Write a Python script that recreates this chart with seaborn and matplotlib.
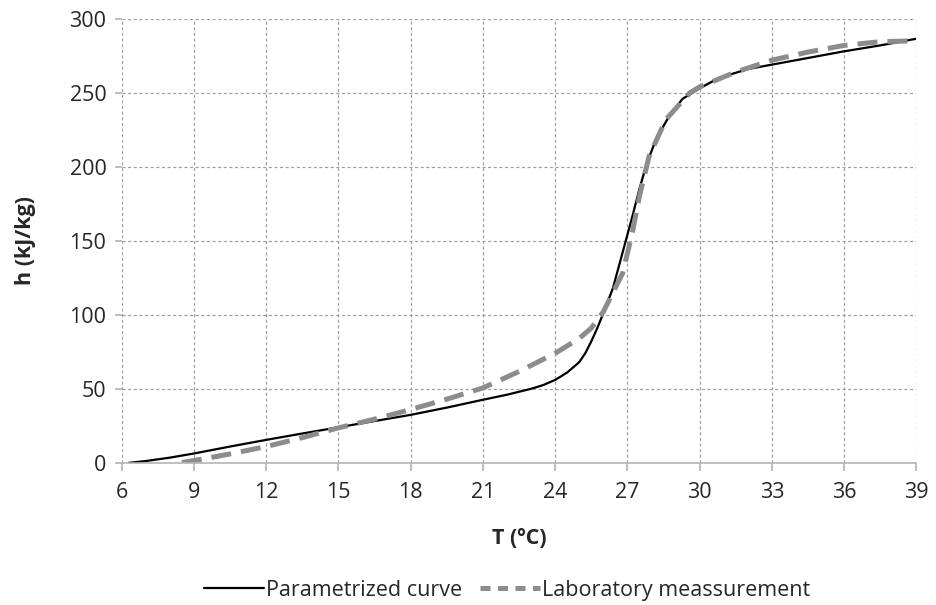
import numpy as np
import pandas as pd
import seaborn as sns
import matplotlib.pyplot as plt

# parametrized curve
t_param = [6.3, 7, 8, 9, 10.5, 12, 13.5, 15, 16.5, 18, 19.5, 21, 22, 23, 23.5, 24, 24.5, 25, 25.25,
           25.5, 25.75, 26, 26.4, 26.9, 27.2, 27.5, 27.8, 28.2, 28.8, 29.3, 30, 30.8, 32, 33, 34.5,
           36, 37.5, 39]
h_param = [0, 1.2, 3.5, 6.3, 11, 15.5, 19.8, 24, 28.2, 32.4, 37.3, 42.6, 46, 50, 52.5, 56, 61, 68, 74,
           82, 91, 101, 118, 148, 166, 185, 202, 219, 236, 246, 253, 260, 266, 269, 273.5,
           278, 282, 286.5]

# laboratory measurement
t_lab = [8.5, 9, 10.5, 12, 13.5, 15, 16.5, 18, 19.5, 21, 22.5, 24, 25, 25.5, 26, 26.4, 26.8,
         27.2, 27.5, 27.9, 28.6, 29.6, 30, 31.5, 33, 34.5, 36, 37.5, 38.7]
h_lab = [0.2, 1.5, 6, 11, 17, 23.6, 29.5, 36, 43, 50.6, 61.7, 74, 84, 91, 102, 115, 128,
         155, 180, 207, 232, 250, 254, 264, 272, 277.5, 282, 284.5, 285]

sns.set_theme(style="white")
plt.rcParams['font.family'] = ['Open Sans', 'DejaVu Sans']

fig = plt.figure(figsize=(9.36, 6.05), dpi=100)
ax = fig.add_axes([0.130, 0.235, 0.849, 0.734])

sns.lineplot(x=t_param, y=h_param, ax=ax, color="black", lw=1.6,
             label="Parametrized curve", sort=False)
sns.lineplot(x=t_lab, y=h_lab, ax=ax, color="#8c8c8c", lw=3.6,
             label="Laboratory meassurement", sort=False)
ax.lines[1].set_dashes((4, 2))

ax.set_xlim(6, 39)
ax.set_ylim(0, 300)
ax.set_xticks(np.arange(6, 40, 3))
ax.set_yticks(np.arange(0, 301, 50))
ax.grid(True, color="#a0a0a0", linestyle=(0, (2.5, 2)), lw=0.9)

for s in ["top", "right", "left"]:
    ax.spines[s].set_visible(False)
ax.spines["bottom"].set_color("#b5b5b5")
ax.spines["bottom"].set_linewidth(1.2)
ax.tick_params(axis="x", bottom=True, length=6, color="#b5b5b5", labelsize=15.5, pad=8)
ax.tick_params(axis="y", left=True, length=5, color="#b5b5b5", labelsize=15.5, pad=6)

ax.set_xlabel("T (ºC)", fontsize=15.5, fontweight="bold", labelpad=18)
ax.set_ylabel("h (kJ/kg)", fontsize=15.5, fontweight="bold", labelpad=24)

leg = ax.legend(loc="upper center", bbox_to_anchor=(0.485, -0.22), ncol=2, frameon=False,
                fontsize=15.5, handlelength=2.8, columnspacing=0.8, handletextpad=0.1)
leg.get_lines()[1].set_dashes((2, 1.5))

plt.savefig("out.png", dpi=100)
